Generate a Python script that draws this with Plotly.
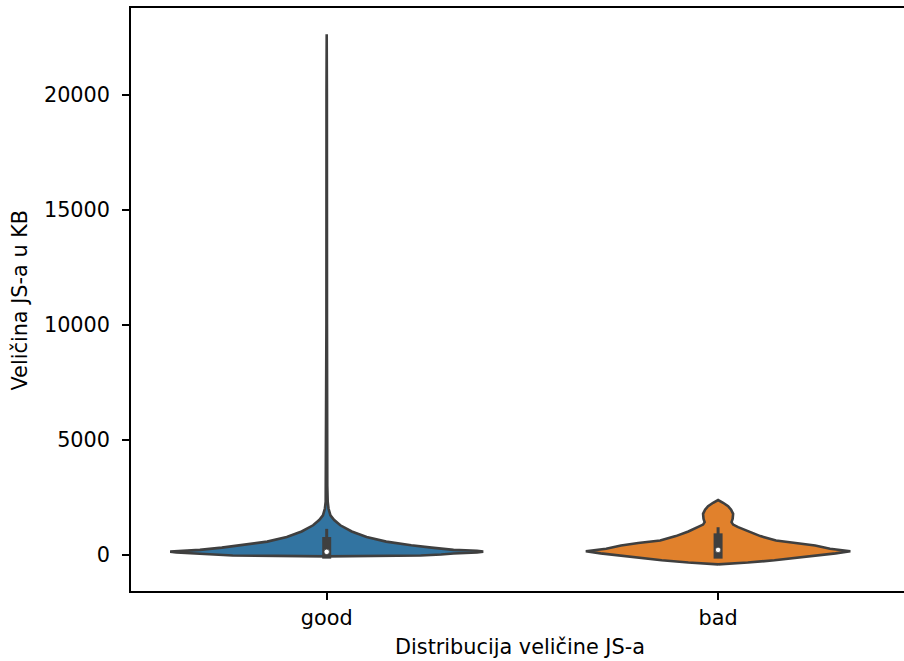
import plotly.graph_objects as go

# Categories and their violin outlines: (value in KB, relative half-width)
categories = ["good", "bad"]

good_values = [-80, -60, -43, 0, 43, 90, 125, 160, 203, 300, 400, 560, 760,
               1000, 1270, 1500, 1700, 2000, 2300, 3000, 5000, 10000, 20000, 22620]
good_width = [0.0, 0.32, 0.60, 0.73, 0.81, 0.96, 1.0, 0.96, 0.81, 0.67, 0.54,
              0.38, 0.255, 0.16, 0.087, 0.048, 0.024, 0.0115, 0.0064, 0.0038,
              0.0026, 0.0019, 0.0013, 0.0]

bad_values = [-430, -400, -350, -250, -150, -50, 50, 143, 250, 391, 500, 609,
              800, 1000, 1188, 1300, 1406, 1550, 1768, 1950, 2100, 2250, 2370]
bad_width = [0.0, 0.08, 0.19, 0.36, 0.50, 0.63, 0.75, 0.845, 0.715, 0.62, 0.51,
             0.37, 0.27, 0.19, 0.128, 0.096, 0.086, 0.093, 0.096, 0.083, 0.064,
             0.032, 0.0]

# Inner box statistics per category
q1 = [20, 20]
median = [115, 200]
q3 = [560, 720]
whisker_low = [0, 0]
whisker_high = [1050, 1120]

y_ticks = [0, 5000, 10000, 15000, 20000]
y_tick_labels = ["0", "5000", "10000", "15000", "20000"]

fill_colors = ["#3274a1", "#e1812c"]
edge = "#3f3f3f"
half_max = 0.4
font = dict(family="DejaVu Sans", size=20.8, color="#000000")

y_range = [-1587, 23761]
plot_h = 661 - 8 - 70
px_per_unit = plot_h / (y_range[1] - y_range[0])

fig = go.Figure()
profiles = [(good_values, good_width), (bad_values, bad_width)]
for i, (vals, widths) in enumerate(profiles):
    xs = [i + half_max * w for w in widths] + [i - half_max * w for w in reversed(widths)]
    ys = list(vals) + list(reversed(vals))
    xs.append(xs[0])
    ys.append(ys[0])
    fig.add_trace(go.Scatter(
        x=xs, y=ys, mode="lines", fill="toself", fillcolor=fill_colors[i],
        line=dict(color=edge, width=2.6), hoverinfo="skip", showlegend=False))

    # whisker, with projecting caps like matplotlib lines
    cap_w = 1.5 / px_per_unit
    fig.add_trace(go.Scatter(
        x=[i, i], y=[whisker_low[i] - cap_w, whisker_high[i] + cap_w], mode="lines",
        line=dict(color=edge, width=3), hoverinfo="skip", showlegend=False))
    cap_b = 4.6 / px_per_unit
    fig.add_trace(go.Scatter(
        x=[i, i], y=[q1[i] - cap_b, q3[i] + cap_b], mode="lines",
        line=dict(color=edge, width=9), hoverinfo="skip", showlegend=False))
    fig.add_trace(go.Scatter(
        x=[i], y=[median[i]], mode="markers",
        marker=dict(color="white", size=5.5, line=dict(color=edge, width=0.8)),
        hoverinfo="skip", showlegend=False))

fig.update_layout(
    width=904, height=661,
    margin=dict(l=131, r=0, t=8, b=70),
    paper_bgcolor="white", plot_bgcolor="white",
    font=font,
    xaxis=dict(
        range=[-0.5, 1.475], tickvals=[0, 1], ticktext=categories,
        ticks="outside", ticklen=7, tickwidth=1.5, tickcolor="black",
        showline=True, linecolor="black", linewidth=1.5, mirror=True,
        showgrid=False, zeroline=False, tickfont=font, ticklabelstandoff=0),
    yaxis=dict(
        range=y_range, tickvals=y_ticks, ticktext=y_tick_labels,
        ticks="outside", ticklen=7, tickwidth=1.5, tickcolor="black",
        showline=True, linecolor="black", linewidth=1.5, mirror=False,
        showgrid=False, zeroline=False, tickfont=font, ticklabelstandoff=8),
    annotations=[
        dict(text="Distribucija veličine JS-a", xref="paper", yref="paper",
             x=0.503, y=-0.096, xanchor="center", yanchor="middle",
             showarrow=False, font=font),
        dict(text="Veličina JS-a u KB", xref="paper", yref="paper",
             x=-0.1436, y=0.5, xanchor="center", yanchor="middle",
             textangle=-90, showarrow=False, font=font),
    ],
)

fig.write_html("out.html")
